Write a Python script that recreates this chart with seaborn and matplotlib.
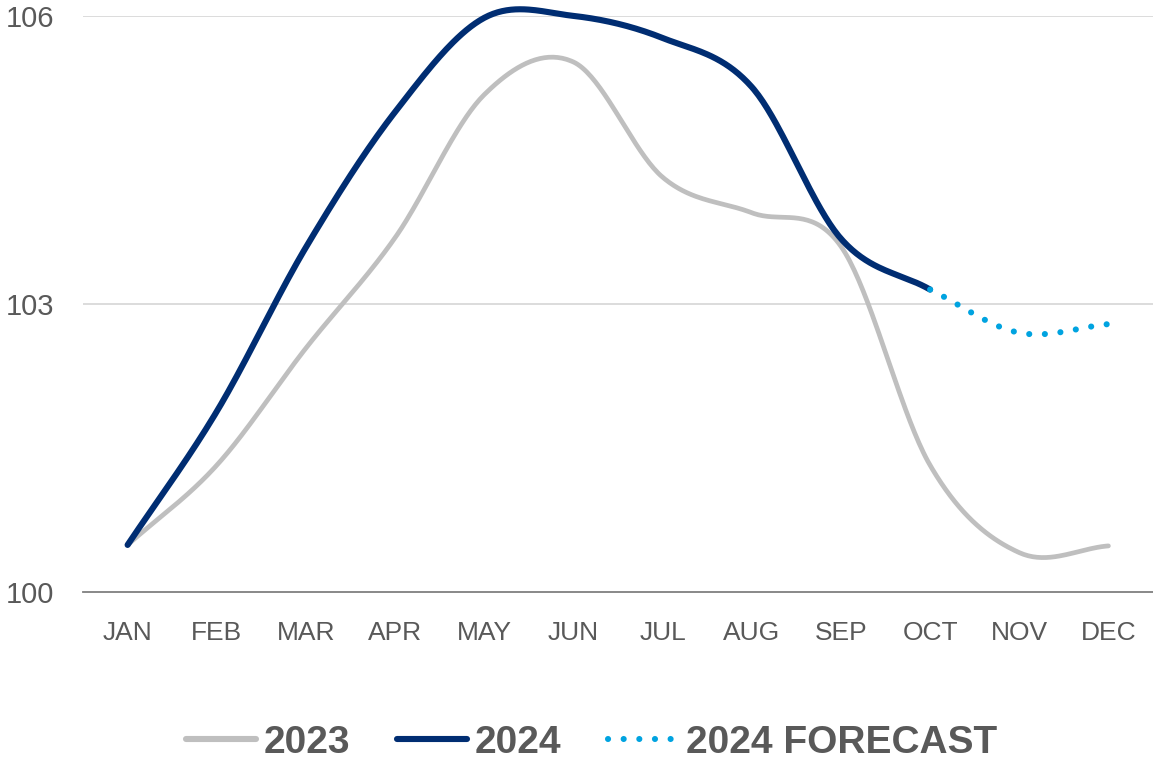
import numpy as np
import pandas as pd
import matplotlib
matplotlib.use("Agg")
import matplotlib.pyplot as plt
from matplotlib.lines import Line2D
import seaborn as sns

months = ["JAN", "FEB", "MAR", "APR", "MAY", "JUN", "JUL", "AUG", "SEP", "OCT", "NOV", "DEC"]
values_2023 = [100.49, 101.32, 102.54, 103.69, 105.18, 105.52, 104.32, 103.95, 103.60, 101.32, 100.41, 100.48]
values_2024 = [100.49, 101.88, 103.59, 105.00, 105.98, 106.00, 105.77, 105.26, 103.68, 103.15]
forecast_months = ["OCT", "NOV", "DEC"]
forecast_2024 = [103.15, 102.70, 102.79]
y_ticks = [100, 103, 106]

GREY = "#BFBFBF"
NAVY = "#002D72"
CYAN = "#00A3E0"
TEXT = "#595959"
FONT = ["Liberation Sans", "DejaVu Sans"]


def smooth(xs, ys, n=40):
    """Catmull-Rom curve through the points, like a spreadsheet 'smoothed line'."""
    xs = np.asarray(xs, float)
    ys = np.asarray(ys, float)
    px = np.concatenate([[2 * xs[0] - xs[1]], xs, [2 * xs[-1] - xs[-2]]])
    py = np.concatenate([[2 * ys[0] - ys[1]], ys, [2 * ys[-1] - ys[-2]]])
    out_x, out_y = [], []
    t = np.linspace(0, 1, n, endpoint=False)
    for i in range(1, len(px) - 2):
        for arr, out in ((px, out_x), (py, out_y)):
            p0, p1, p2, p3 = arr[i - 1], arr[i], arr[i + 1], arr[i + 2]
            seg = 0.5 * ((2 * p1) + (-p0 + p2) * t + (2 * p0 - 5 * p1 + 4 * p2 - p3) * t ** 2
                         + (-p0 + 3 * p1 - 3 * p2 + p3) * t ** 3)
            out.extend(seg)
    out_x.append(xs[-1])
    out_y.append(ys[-1])
    return np.array(out_x), np.array(out_y)


idx = {m: i for i, m in enumerate(months)}
x23, y23 = smooth(range(len(values_2023)), values_2023)
x24, y24 = smooth(range(len(values_2024)), values_2024)
xf, yf = smooth([idx[m] for m in forecast_months], forecast_2024)

sns.set_theme(style="white")
plt.rcParams["font.family"] = FONT

fig = plt.figure(figsize=(11.53, 7.61), dpi=100)
ax = fig.add_axes([0.072, 0.2221, 0.928, 0.757])

for y in y_ticks[1:]:
    ax.axhline(y, color="#D9D9D9", lw=1.3, zorder=0)

sns.lineplot(x=x23, y=y23, ax=ax, color=GREY, lw=3.4, sort=False, estimator=None,
             solid_capstyle="round", clip_on=False, zorder=2)
sns.lineplot(x=x24, y=y24, ax=ax, color=NAVY, lw=4.4, sort=False, estimator=None,
             solid_capstyle="round", clip_on=False, zorder=3)
fl = ax.plot(xf, yf, color=CYAN, lw=4.4, clip_on=False, zorder=4)[0]
fl.set_dashes((0.01, 2.55))
fl.set_dash_capstyle("round")

ax.set_xlim(-0.5, 11.5)
ax.set_ylim(100, 106)
ax.set_xticks(range(len(months)))
ax.set_xticklabels(months)
ax.set_yticks(y_ticks)
ax.set_yticklabels([str(v) for v in y_ticks])
ax.tick_params(axis="x", labelsize=19, colors=TEXT, length=0, pad=21)
ax.tick_params(axis="y", labelsize=21, colors=TEXT, length=0, pad=21)
for s in ["top", "right", "left"]:
    ax.spines[s].set_visible(False)
ax.spines["bottom"].set_color("#7F7F7F")
ax.spines["bottom"].set_linewidth(1.3)
ax.set_xlabel("")
ax.set_ylabel("")

h_forecast = Line2D([0], [0], color=CYAN, lw=4.4, dash_capstyle="round")
h_forecast.set_dashes((0.01, 2.55))
handles = [
    Line2D([0], [0], color=GREY, lw=4.4, solid_capstyle="round"),
    Line2D([0], [0], color=NAVY, lw=4.4, solid_capstyle="round"),
    h_forecast,
]
leg = fig.legend(handles, ["2023", "2024", "2024 FORECAST"], loc="center",
                 bbox_to_anchor=(0.513, 0.0237), ncol=3, frameon=False,
                 handlelength=1.8, handletextpad=0.2, columnspacing=1.2,
                 prop={"family": FONT, "weight": "bold", "size": 28})
for t in leg.get_texts():
    t.set_color(TEXT)

fig.savefig("out.png", dpi=100)
